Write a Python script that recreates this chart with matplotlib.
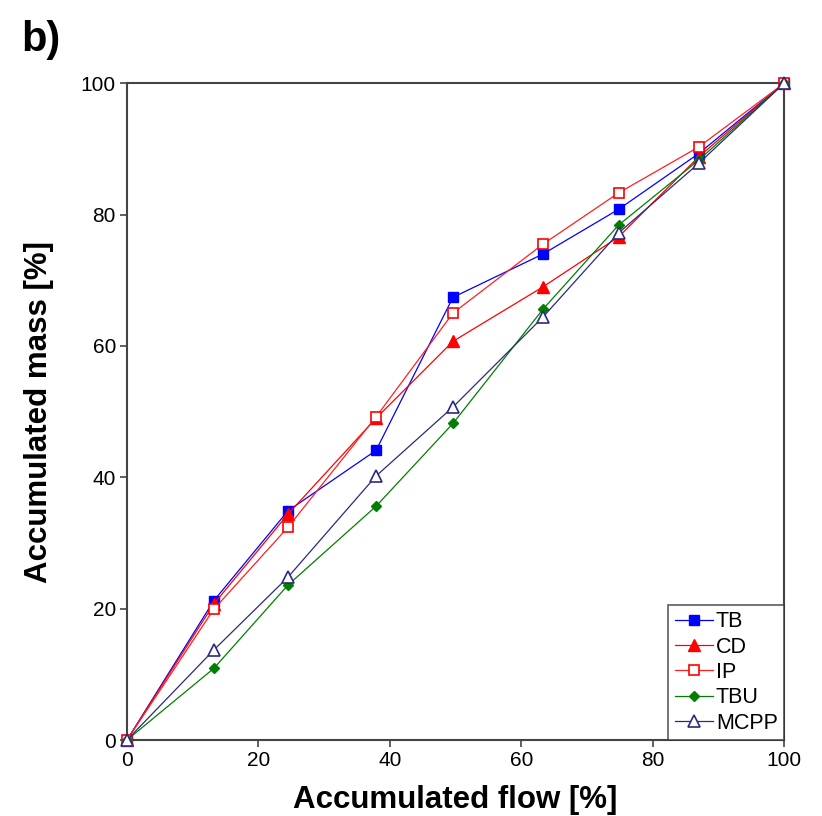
import matplotlib
matplotlib.use("Agg")
import matplotlib.pyplot as plt

plt.rcParams["font.family"] = ["Liberation Sans", "DejaVu Sans"]

# accumulated flow (x) shared by all series
flow = [0, 13.2, 24.5, 37.9, 49.6, 63.3, 74.8, 87.0, 100]

tb = [0, 21.2, 34.9, 44.1, 67.4, 74.0, 80.8, 89.3, 100]
cd = [0, 20.7, 34.4, 49.0, 60.7, 69.0, 76.6, 88.8, 100]
ip = [0, 19.9, 32.4, 49.2, 65.0, 75.5, 83.3, 90.3, 100]
tbu = [0, 10.9, 23.6, 35.6, 48.2, 65.6, 78.4, 88.3, 100]
mcpp = [0, 13.7, 24.8, 40.2, 50.7, 64.4, 77.2, 87.8, 100]

x_ticks = [0, 20, 40, 60, 80, 100]
y_ticks = [0, 20, 40, 60, 80, 100]

fig = plt.figure(figsize=(8.22, 8.16), dpi=100)
ax = fig.add_axes([0.1545, 0.0931, 0.7995, 0.8049])

ax.plot(flow, tb, color="#0000ff", lw=0.9, marker="s", ms=7.5,
        mfc="#0000ff", mec="#0000ff", label="TB", clip_on=False, zorder=3)
ax.plot(flow, cd, color="#ff0000", lw=0.9, marker="^", ms=8,
        mfc="#ff0000", mec="#ff0000", label="CD", clip_on=False, zorder=3)
ax.plot(flow, ip, color="#ff2020", lw=0.9, marker="s", ms=7.5,
        mfc="white", mec="#ff0000", mew=1.2, label="IP", clip_on=False, zorder=3)
ax.plot(flow, tbu, color="#008000", lw=0.9, marker="D", ms=5.5,
        mfc="#008000", mec="#008000", label="TBU", clip_on=False, zorder=3)
ax.plot(flow, mcpp, color="#2a2a80", lw=0.9, marker="^", ms=8,
        mfc="white", mec="#2a2a80", mew=1.2, label="MCPP", clip_on=False, zorder=3)

ax.set_xlim(0, 100)
ax.set_ylim(0, 100)
ax.set_xticks(x_ticks)
ax.set_yticks(y_ticks)
ax.tick_params(direction="out", length=5, width=1.2, color="#444444",
               labelsize=15, top=False, right=False, pad=3)

for spine in ax.spines.values():
    spine.set_linewidth(1.5)
    spine.set_color("#444444")

ax.set_xlabel("Accumulated flow [%]", fontsize=22.5, fontweight="bold", labelpad=10.5)
ax.set_ylabel("Accumulated mass [%]", fontsize=22.5, fontweight="bold", labelpad=19)

leg = ax.legend(loc="lower right", fontsize=15.5, frameon=True, fancybox=False,
                borderaxespad=0, handlelength=1.75, labelspacing=0.2,
                handletextpad=0.15, borderpad=0.3)
leg.get_frame().set_edgecolor("#333333")
leg.get_frame().set_linewidth(1.2)

fig.text(0.026, 0.938, "b)", fontsize=30, fontweight="bold")

fig.savefig("out.png", dpi=100)
